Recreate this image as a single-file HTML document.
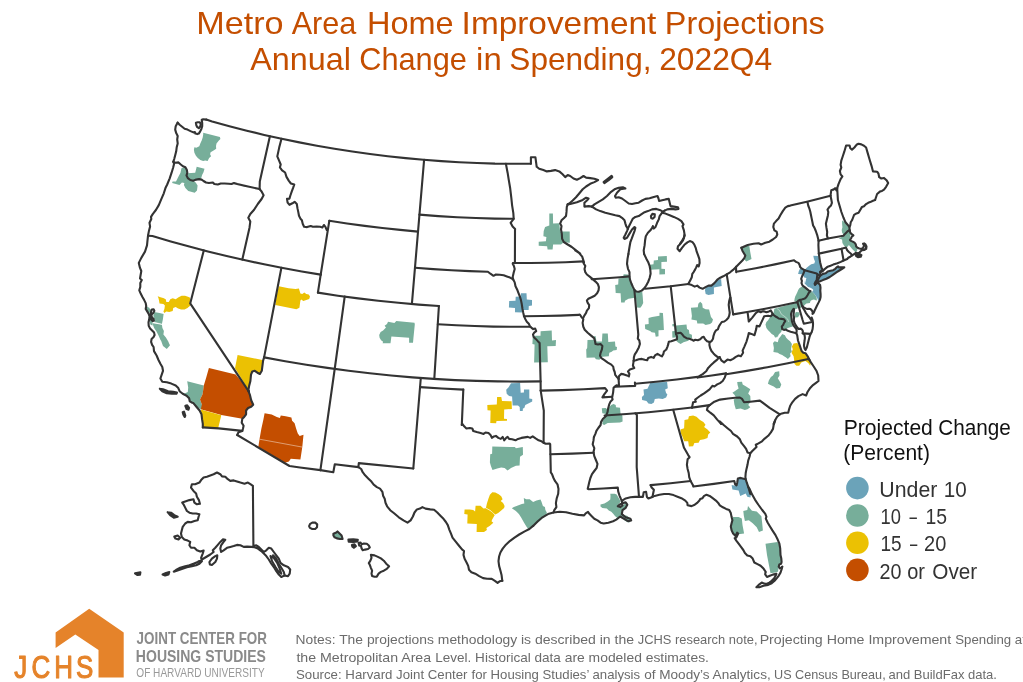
<!DOCTYPE html>
<html lang="en"><head><meta charset="utf-8"><title>Metro Area Home Improvement Projections</title>
<style>html,body{margin:0;padding:0;background:#fff}body{width:1023px;height:682px;overflow:hidden}svg{display:block}text{font-family:"Liberation Sans",sans-serif}</style></head>
<body>
<svg width="1023" height="682" viewBox="0 0 1023 682">
<rect width="1023" height="682" fill="#fff"/>
<g id="metros" stroke="none">
<path d="M203.2,132.8L219.9,137L220.4,139L218.9,140.5L216.5,143.4L216,145.9L216.2,148.8L214,150.3L210.6,152.2L210.1,154.2L211.1,156.2L209.1,158.1L207.6,161.1L205.2,160.6L203.2,161.1L200.3,160.1L197.8,158.1L195.9,155.7L194.4,152.7L193.9,149.8L194.4,147.3L196.3,147.8L199.3,146.3L200.3,143.4L201.7,140.5L202.7,137.5L203.2,134.6Z" fill="#77ae9a"/>
<path d="M181.4,168.3L184.9,167.3L186.8,169.7L187.3,173.2L195.2,172.7L196.7,166.8L204.5,168.8L203.5,172.2L202.1,175.1L201.1,178.6L196.2,179.6L193.2,180.7L195.7,182.5L197.6,185.5L197,190.4L194.7,192.8L188.3,190.9L185.4,187.9L183.9,185L184.4,183L181.9,182.5L179.5,185L172.1,183L172.6,181.5L176,181.5L178.5,176.6L180.5,172.7Z" fill="#77ae9a"/>
<path d="M157.7,296.2L160.5,297.2L163.9,298.2L165.9,299.6L166.3,302.1L168.8,302.1L170.3,299.2L172.7,298.2L175.7,299.2L178.6,297.2L181.6,295.7L185,295.7L188,296.7L190.1,297.7L189.9,303.1L190.4,305.5L187.5,308L184.5,309.5L181.1,309.5L178.1,308.5L175.7,307L173.2,308L172.7,310.9L169.3,311.9L166.3,311.4L164.4,312.9L163.4,311.4L164.4,309L164.9,305.5L163.4,304.1L159.5,303.6L159,300.6L158.5,298.2Z" fill="#ebc103"/>
<path d="M146.2,306L148.7,307.5L151.1,310L150.6,312.9L148.2,311.9L145.7,309Z" fill="#77ae9a"/>
<path d="M154.1,311.9L159.5,312.9L163.6,313.9L162.9,319.3L161.9,323.9L154.6,322.2L154.1,318.8L153.1,315.9L153.6,313.4Z" fill="#77ae9a"/>
<path d="M149.2,313.9L150.6,314.9L151.1,318.8L152.6,322.2L152.6,325.4L150.6,324.7L149.2,320.8L148.7,316.8Z" fill="#77ae9a"/>
<path d="M152.8,323.2L161.9,324.7L162.4,328.1L163.9,331.1L163.4,334.5L165.9,337.5L168.3,341.4L169.8,345.3L166.8,338.9L170,345.3L166.8,349.1L163,345.9L161.1,340.8L160.5,339.9L158.5,335.5L156.5,331.6L154.1,328.1L153.1,325.2Z" fill="#77ae9a"/>
<path d="M187.2,381.3L203.8,385.5L203.2,390L202.5,394.4L200,399.5L201.9,404.6L202.5,408.1L200.8,409.2L196.4,406.7L193.2,402.9L190,401.6L196.1,404.6L192.3,402.7L189.8,400.8L189.1,398.3L186.6,395.7L184,393.8L187.8,391.9L188.2,387.4Z" fill="#77ae9a"/>
<path d="M208.9,368L235.7,374.4L248.4,390L249.7,395.1L251.6,400.2L253.3,404L251,406.6L248.4,408.5L246.1,410.5L246.1,414.3L244.2,416.9L242.3,418.8L241,418.4L221.3,415L200.8,409.2L201.9,404.6L200,399.5L202.5,394.4L203.2,390L203.8,385.5L206.3,377.2Z" fill="#c44e00"/>
<path d="M237.6,355.1L262.5,360L261.8,370.8L259.9,374L257.4,372.7L254.8,370.8L252.3,371.5L251,374.7L250.4,381L249.1,386.1L248.4,389.7L235,368.3Z" fill="#ebc103"/>
<path d="M200.8,409.5L221.3,415.2L218.1,428.4L202.8,427.4L202.1,419.4L201.5,414.3Z" fill="#ebc103"/>
<path d="M264.6,413.3L271.7,414.6L276.8,416.9L279.9,417.9L280.8,415.6L285.7,416.3L291.4,417.5L292.1,420.7L294.6,423.3L296.1,428.4L297.8,433.5L299.7,436L303.5,434.8L302.3,446.9L300.4,459.6L290.8,458.7L288.9,461.6L285,462.8L258.3,446.9L259.5,439.2L261.4,428.4L263.4,419.4Z" fill="#c44e00"/>
<path d="M278.8,286.2L288.6,288.2L295.5,288.9L298.9,288.5L300.4,293.6L302.3,294.1L304.3,292.6L306.3,294.1L308.7,294.4L310,296.5L309.2,299L306.3,300L303.3,300.9L301.3,299.5L300.4,300.5L299.4,307.8L296.4,309.3L275.3,304.9L276.3,298.5L277.3,292.6Z" fill="#ebc103"/>
<path d="M388,321.8L394.4,323.1L396.3,321.1L414.5,322.8L414.8,324.6L413.5,337.3L413,342.7L409.1,342.7L409.1,337.8L391.4,336.5L390.5,343.2L382.6,343.2L383.1,341.7L381.1,340.3L379.6,337.8L379.2,334.9L380.6,331.9L383.1,330.5L386,327.5L384.6,325.7L387,324.1Z" fill="#77ae9a"/>
<path d="M549.3,213.6L552.9,213.6L553.1,223.6L559.3,223.3L560.1,231.6L569.7,231.6L569.8,242.8L563.8,242.3L561,244.5L553.1,244.5L552.6,249.5L547.6,249.5L547.1,246.2L538.7,245.7L538.7,241.7L545.9,241.2L546.4,237L543.4,236.2L543.7,231.1L545.1,227L549.3,225.6Z" fill="#77ae9a"/>
<path d="M520.9,293.3L526.5,293.3L526.8,299.6L532,300.1L532,305.5L528.8,306L528.6,310L522.4,310L522.2,312.4L515,312.2L515,308L508.9,307.5L509.2,301.1L515.5,300.8L515.7,296.7L520.9,296.5Z" fill="#6ba3b9"/>
<path d="M540.6,331.3L551.7,330.6L552,340.6L556,340.1L555.7,346L547.3,346.3L547.8,362.2L534.1,362.4L534.6,344.6L532.4,344.1L532.8,336.2L535.7,335.7L540.5,335.7Z" fill="#77ae9a"/>
<path d="M602.4,333.5L607.8,333.5L608.3,342L615,341.5L615.4,346.4L617,346.9L616.7,349.9L613.2,350.4L611.7,351.8L609.3,352.8L608.8,356.3L602.4,356.7L600.5,358.2L599.5,359.7L596,359.2L594.6,357.4L586.5,357.7L586.2,349.4L587.2,347.9L587.5,340L594.1,339.8L593.6,336.6L595.5,336.1L596.5,341.5L601.9,341.5Z" fill="#77ae9a"/>
<path d="M623.6,274.2L628,274.4L629.3,276.4L630,279.6L631.4,283.5L632.9,286.9L634.4,290.4L634.9,297.7L628.5,298.7L625,300.7L624.6,302.6L621.1,302.6L620.6,293.3L615.7,293.1L615.2,285L618.2,284.5L618.5,278.6L623.1,278.1Z" fill="#77ae9a"/>
<path d="M634.9,291.5L638.8,292.1L642.2,291.5L642.7,296.3L643.2,303.1L641.7,306.1L640.3,307.8L636.8,307.6L636.1,299.2Z" fill="#77ae9a"/>
<path d="M658,256.5L666.8,256L667,261.7L661.4,262.1L661.4,268.8L665,268.9L665,274.2L659.4,274.6L659.4,269.2L650.3,269.7L650.1,264.8L653.5,264.3L653.8,260.4L658,260.1Z" fill="#77ae9a"/>
<path d="M659.5,312.7L662.9,312.9L663.4,320L663.9,329.9L658.5,330.2L658.5,336.3L655.7,336.7L655,332.8L651.6,332.3L650.1,330.9L645.2,328.9L644.9,324.5L648.7,324L648.5,318.1L652.1,317.1L659.5,315.8Z" fill="#77ae9a"/>
<path d="M676.2,325.5L686.5,324.5L687,328.9L688.9,329.9L689.4,333.8L691.9,334.8L692.1,338.2L689.4,338.7L688.4,340.7L683.5,342.2L680.6,344.1L678.1,342.6L676.2,340.7L677,337.2L672.4,337.7L672.2,331.3L674.7,330.9L674.4,326.4L672.4,326.2L672.4,324L673.7,324Z" fill="#77ae9a"/>
<path d="M700.2,301.7L702.2,303.8L702.7,307.8L705.6,309.2L709.1,309.5L710.1,313.7L711,317.1L713,319.6L712,322.5L710.1,324L705.6,325L703.2,323.5L697.3,323.5L696.8,320.5L691.4,319.6L691.9,316.1L690.9,307.8L697.8,307.3L698.3,303.8Z" fill="#77ae9a"/>
<path d="M705.5,287.1L708.5,285.6L711.4,285.6L714.4,283.1L717.3,280L721.1,279L721.7,286.1L713.9,287.6L713.9,293.9L708.5,294.9L705.7,293.9L705,290.5Z" fill="#6ba3b9"/>
<path d="M741.4,247.8L744.8,246L749.3,246L750.2,251.7L751.5,259.1L746.3,261.5L744.3,259.6L744.8,257.6L745.6,255.6L743.9,253.2L742.4,250.7Z" fill="#77ae9a"/>
<path d="M650.4,382.8L658.8,382.3L667.1,382L667.8,388.2L665.1,389.6L666.1,393.1L667.4,394.6L666.1,397.5L662.7,399L658.8,398.5L654.8,399L653.9,402.4L651.4,403.9L648.4,403.4L646.5,400.9L642.1,400L641.9,397L644,395L643.5,389.6L647.5,388.7L648.9,385.7Z" fill="#6ba3b9"/>
<path d="M611.1,404.9L613.6,403.9L615.7,404.9L616,407.3L620,407.8L620.5,413.2L622.4,415.7L622.6,421.6L620,422.6L607.7,423L604.2,425L602.3,424L602.8,421.1L604.7,418.1L606.2,415.7L605.2,413.7L602.3,413.2L601.8,408.3L605.7,408.1L607.2,409.3L609.2,407.3Z" fill="#77ae9a"/>
<path d="M497.1,397.1L501.3,397.1L502,401L511.6,401.3L511.9,408.9L504.2,409.4L504,418.7L507,419L507,420.7L496.5,421L496.1,423.3L490.3,423.1L490.6,410.4L487.5,410.2L487.3,405L496.8,404.5Z" fill="#ebc103"/>
<path d="M511.1,383.3L520.1,383.1L520.7,392.7L523.9,392.5L524,389.5L529.3,389.5L529.3,398.6L532.2,399.1L532.2,401.5L529.3,403L525.3,405L524.3,407.9L522.9,408.4L522.7,410.9L519.9,410.9L519.7,406.9L518,405.5L512.6,405.6L512.1,396.6L509.1,396.1L506.7,393.7L506.2,389.7L508.6,387.3L510.1,384.8Z" fill="#6ba3b9"/>
<path d="M492.3,446.4L514.9,447.1L515.9,448.3L522.8,447.1L523,454.7L520,456.7L519.6,465.5L515.9,465.7L511,468L507.6,470.6L504.6,468L501.2,467.5L497.2,468.5L492.5,470L490.9,466L489.9,462.6L490.2,454.2L492.1,453.8Z" fill="#77ae9a"/>
<path d="M492.3,492.3L495.3,492.6L498.7,494.2L501.2,496.2L502.6,499.2L500.7,501.1L503.1,503.1L504.6,506L504.1,508L501.2,510.5L498.2,512.9L495.3,514.4L492.8,512.4L489.9,510L485.9,508L486.9,503.6L488.4,498.7L489.9,494.7Z" fill="#ebc103"/>
<path d="M475.6,505.7L480.5,505.7L483.5,508.5L485.9,508.3L489.9,510.5L492.8,512.6L494.8,514.9L492.3,519.3L491.5,521.3L493.3,522.7L489.9,525.7L486.4,528.1L486.9,530.1L484,532.1L476.6,531.9L476.8,524L467.3,523.4L467.6,514.4L464.3,513.9L464.6,509.5L469.7,509.5L473.2,510L475.1,511.4Z" fill="#ebc103"/>
<path d="M523.8,497.9L526.2,499.2L529.7,499.2L533.1,502.1L536.5,500.6L540.5,499.6L541.4,501.6L542.9,506L544.9,507L545.4,510L546.8,512.4L546.4,514.9L542.9,517.8L539.5,521.3L535.6,524.2L531.6,527.2L528.2,529.1L526.2,526.2L523.8,522.2L521.3,517.8L518.9,513.9L515.9,510.9L511.8,508.3L513.9,507L517.9,505.5L521.8,504.1L524.3,503.6Z" fill="#77ae9a"/>
<path d="M610.3,493.7L614.7,493.7L616.7,494.6L618.1,497.1L619.6,499.6L620.6,502L618.6,504L617.6,505.9L619.1,507.4L621.1,506.9L623,505.5L624.5,504L626.5,502.5L627.5,504L626.5,505.9L625,507.9L623,509.9L621.6,511.8L622.6,513.8L624.5,515.3L627,515.8L628.9,517.2L631.4,519.7L629.4,522.6L627,522L625,520.7L623,518.7L620.1,517.2L617.2,517.7L615.2,516.3L613.2,513.8L611.3,511.8L608.8,510.4L606.8,508.4L602.4,507.9L600.5,506.4L600.5,504.5L604.4,503.5L607.8,501.5L610.3,499.6L610.5,496.1Z" fill="#77ae9a"/>
<path d="M688.9,416.3L693.1,415.4L696.5,416.8L700,420L703.4,422L705.5,424.8L704.1,426.9L707.5,429.6L710.3,432.4L708.2,434.4L707.5,437.9L704.1,439.3L700,440L698.6,442.7L694.4,443L693.1,446.2L688.9,446.6L688.2,441.3L684.1,441.3L682.7,437.2L680.7,433.1L680.4,429.6L684.1,428.2L684.5,420L688.2,419.3Z" fill="#ebc103"/>
<path d="M737.2,382.1L742,381.7L742.7,384.4L746.1,386.5L750.3,389.3L748.2,393.4L750.3,396.1L750.6,401.7L748.2,405.1L750.3,407.2L747.5,409.2L744.8,409.9L740.6,408.5L735.8,409.2L734.4,404.4L733.7,399.6L736.5,398.2L734.4,394.8L732.4,392.7L735.8,390.6L738.6,388.6L737.6,385.1Z" fill="#77ae9a"/>
<path d="M775.1,372L779.2,371.3L779.5,375.5L777.8,378.2L779.9,381.7L781.3,384.4L779.9,387.9L776.5,388.6L773.7,386.5L770.3,385.1L767.9,383.7L768.9,380.3L770.9,376.9L773,375.5Z" fill="#77ae9a"/>
<path d="M782.2,333.9L784.9,335.2L786.2,337.8L787.9,339.6L790.1,341.3L791.9,344L791.5,346.6L791,349.3L791.9,351.5L790.1,353.6L790.6,356.3L787.9,358.9L785.7,357.2L784,356.3L782.2,355L779.6,354.1L777.8,352.8L773.4,351.9L773.9,347.9L773,343.1L774.7,341.3L777.8,342.2L778.7,338.7L780.9,336.1Z" fill="#77ae9a"/>
<path d="M793.6,343.5L797.2,343.1L798.9,344.9L799.8,347.5L801.6,351L803.3,352.8L805.5,353.2L807.7,356.3L809.5,360L810.9,362.4L810.2,365.8L808.2,363.1L805.4,361L801.3,362.4L799.2,365.8L796.4,365.8L794.4,363.8L794.1,359.6L793.6,356.3L791.5,352.8L792.8,349.3L791.9,346.6Z" fill="#ebc103"/>
<path d="M772.7,314.2L775.2,316.3L776.9,317.2L778.7,318.5L781.3,318.9L784,319.3L785.3,321.1L784,322.9L783.1,325.1L781.8,326.4L782.2,329L781.3,331.7L779.1,334.3L777.8,336.9L775.2,337.8L773.9,335.2L771.7,333.9L769.9,332.1L768.1,330.3L766.4,328.1L765.5,324.6L766.4,322L768.1,320.2L769.9,317.2L771.2,316.3Z" fill="#77ae9a"/>
<path d="M774.3,308.8L798,302.2L798.9,305.3L797.2,308.8L794.1,309.2L791.9,311.4L791,314.1L791.5,317.6L791.9,321.1L792.8,323.7L792.8,326.4L790.1,327.3L787.9,328.1L785.7,329.5L784,329.9L782.2,329L781.8,326.4L783.1,325.1L784,322.9L785.3,321.1L784,319.3L781.3,318.9L778.7,318.5L776.9,317.2L775.2,316.3L772.7,314.2L773.9,311.4Z" fill="#77ae9a"/>
<path d="M795.8,311.9L798.9,312.3L799.8,314.5L798,317.2L795.4,317.6L794.5,315Z" fill="#77ae9a"/>
<path d="M801.7,286.7L803.7,286.5L805.8,287.9L808.1,289.7L810.5,291.1L808.7,292.9L807.5,295.2L806.4,297L805.2,298.2L803.4,299.1L801.7,299.6L799.9,299.9L798.2,300.8L797.3,302.2L795.8,301.7L794.3,301.1L794.6,298.8L795.2,296.4L796.1,294.7L797.3,292.3L798.2,290L799.3,288.2Z" fill="#77ae9a"/>
<path d="M810.5,291.1L812.2,291.7L814,293.5L815.5,295.5L816.6,297.6L816.9,300.5L815.7,300.2L814,299.6L811.9,299.9L810.5,301.1L809.9,302.9L808.1,303.2L806.4,303.5L805.2,304.6L804,305.8L802.6,306.4L801.7,304.6L801.1,302.3L799.9,300.2L801.7,299.6L803.4,299.1L805.2,298.2L806.4,297L807.5,295.2L808.7,292.9Z" fill="#77ae9a"/>
<path d="M797.3,302.2L798.7,306.4L799.9,308.2L801.1,307.6L802,305.8L801.7,304.6L801.1,302.3L799.9,300.2L798.2,300.8Z" fill="#77ae9a"/>
<path d="M813.3,255.7L818.4,255.9L820.1,262.2L821.5,267.7L822.6,269.5L820.8,271.2L820.1,272.2L820.5,274.6L817.4,274.3L817,277.4L816.7,280.1L815.3,282.2L815,285L817.4,282.6L818.8,283.6L820.1,285L820.5,287.7L820.7,292L818.7,284.7L819.6,285.6L820.1,287.6L820.3,290.6L820.6,294.1L820.6,297L819.9,299.9L818.4,300.8L816.9,297.6L815.5,295.5L814,293.5L812.2,291.7L813.4,290L812.2,288.8L809.9,287.6L808.1,287L806.4,285.3L804.6,283.5L804,280L805,283.6L805.7,280.8L806.4,278.1L804.3,277.4L802.9,275.3L801.5,274.3L798.1,273.9L798.8,271.2L799.8,269.1L801.5,268.4L804.6,270.2L806.4,268.1L809.1,265.7L811.2,264.3L814.3,263.6L815,261.5L813.9,258.8Z" fill="#6ba3b9"/>
<path d="M820.8,275.3L822.9,273.9L825.7,273.3L827.7,271.5L830.5,270.8L833.2,270.2L835.3,268.8L837,267.1L838.1,266.4L838.8,267.4L841.5,267.4L844.3,267.4L842.2,268.8L839.4,270.5L836.7,272.2L833.2,274.6L829.8,277L826.4,278.8L822.9,280.1L819.5,281.5L817.4,282.2L818.1,279.5L819.5,276.7Z" fill="#6ba3b9"/>
<path d="M842.1,220.6L843.8,221.6L845.5,223L847.6,224.7L849.3,226.8L849.6,229.2L849.6,230.3L847.6,231.3L845.5,233.4L843.8,235.1L842.1,232.7L841.7,229.9L842.4,227.2L842.1,223.7Z" fill="#77ae9a"/>
<path d="M849.6,230.3L850.3,232.7L851,234.7L850,235.8L850.3,238.2L849.6,239.9L851,240.9L852.7,241.6L854.5,242.7L855.8,244.4L856.2,246.5L857.6,247.8L857.2,250.6L855.8,252.7L854.5,251.3L852.4,249.2L850.3,246.8L848.9,245.1L847.6,246.8L845.8,247.1L844.1,245.8L842.4,243L842.1,239.6L838.6,238.5L840.7,237.8L843.4,235.8L845.5,233.4L847.6,231.3Z" fill="#77ae9a"/>
<path d="M737.1,478.6L744.1,478.6L746,477.5L747.3,482.5L749.6,488.8L751.2,493.5L750.4,497.5L747.3,496.7L745.7,493.5L740.2,495.9L738.6,490.4L735.5,490.1L732.4,489.6L731.6,484.9L735.5,485.7L737.1,484.9Z" fill="#6ba3b9"/>
<path d="M748,506.1L752,510.8L756.7,511.6L761.4,516.3L762.2,523.3L762.9,530.4L759,532L756.7,527.3L752.7,523.3L748.8,520.2L744.9,521L743.8,515.5L743.3,511.1L747.3,510Z" fill="#77ae9a"/>
<path d="M733.1,517.1L738.6,517.1L741.8,518.6L742.5,524.9L744.1,533.5L738.6,534.3L736.3,532.7L735.5,535.9L733.1,533.5L731.6,530.4L730.8,526.5L731.6,523.3L732.4,520.2Z" fill="#77ae9a"/>
<path d="M765.5,543.8L777.5,542.1L778.7,543.5L779.9,547.6L780.5,551.7L780.8,555L781.3,558.5L781.6,562L781.1,563.8L779.3,564.4L778.7,566.7L778.1,571.4L776.7,572.3L770.5,573.2L767,555Z" fill="#77ae9a"/>
<path d="M333.4,533.7L336.3,532.6L337.5,531.4L339.3,533.2L341.6,535.5L342.6,539L339.9,539L336.9,538.4L334.6,537.3L333.4,535.5Z" fill="#77ae9a"/>
</g>
<g id="inner" fill="none" stroke="#fff" stroke-opacity="0.75" stroke-width="0.6">
<path d="M259.5,439.2L302.3,447.1"/>
<path d="M154.1,322.2L161.9,324.2"/>
<path d="M154.1,311.9L153.1,315.9L154.1,318.8L154.6,322.2"/>
<path d="M485.9,508L489.9,510.3L492.8,512.6L494.8,514.9"/>
<path d="M776.9,308.4L779.6,310.6L781.3,314.1L784.9,316.7L787.5,318.9L788.8,322"/>
<path d="M782.2,333.9L779.1,334.3L777.8,336.9L775.2,337.8"/>
</g>
<g id="isl" fill="#333" stroke="none">
<path d="M159.8,388.7L163,389.3L168.1,391.2L173.2,391.9L177,392.5L176.4,393.8L171.9,393.8L166.8,393.2L162.3,391.2Z"/>
<path d="M185.3,405.9L187.2,405.3L189.1,407.8L188.5,409.7L186.6,409.1Z"/>
<path d="M182.7,412.3L184,411.7L185.3,415.5L184.7,417L183.4,414.8Z"/>
<path d="M348.4,539.6L353.3,539.3L357.8,539.7L357.4,541.4L353.3,542L348.7,541.6Z"/>
<path d="M351.9,544.9L354.5,544.3L355.9,546.1L353.9,547.8L352.4,546.6Z"/>
<path d="M135,573.4L140.4,572.4L140,574.7L137.5,575Z"/>
<path d="M162.6,574.5L166,572.9L169.3,572L168.5,574.5L165.1,575.4Z"/>
<path d="M167.6,512.2L171,512.7L174.3,515.2L177.7,516.8L173.8,517.7L170.1,515.2Z"/>
<path d="M603.6,182.1L607.8,178.8L611.6,175.8L612.3,177.1L608.3,180.5L604.4,183.1Z"/>
<path d="M855.8,253.7L858.6,253.4L861.4,255.1L860.7,256.8L857.9,257.1L856.2,256.1Z"/>
<path d="M863.1,243.7L864.1,243.4L865.5,244.4L866.5,246.5L866.2,248.9L864.5,249.9L862,250.2L863.1,249.2L864.8,248.2L865.1,246.5L864.5,245.1Z"/>
</g>
<g id="borders" fill="none" stroke="#333" stroke-width="2.1" stroke-linejoin="round" stroke-linecap="round">
<path d="M206.2,119.6L212.1,121.6L229.4,126.3L246.8,130.7L264.2,134.9L281.7,138.8L299.3,142.4L316.9,145.7L334.5,148.7L352.3,151.5L370,154L387.8,156.2L405.6,158.1L423.5,159.8L441.3,161.1L459.2,162.2L477.1,163L495,163.6L513,163.8L530.9,163.8"/>
<path d="M177.7,122.6L179.6,124.7L182.1,126.7L184.6,128.7L187.5,129.6L190.5,131.1L193.4,132.4L194.9,132.1L195.4,133.6L197.3,134.1L198.8,133.6L200.3,131.1L201.3,129.2L202.2,126.2L202.2,122.8L201.7,119.8L203.2,119.3L206.2,119.6"/>
<path d="M195.9,122.8L197.8,122.3L199.8,122.3L200.8,124.2L200.1,126.7L198.8,128.2L197.3,127.2L196.3,125.2L195.9,122.8"/>
<path d="M177.7,122.6L175.7,126.2L175.2,129.6L176.2,133.1L177.7,136L177.2,139.5L177.7,143.4L176.7,147.3L176.2,151.3L175.2,155.2L174.2,159.1L173.3,161.6"/>
<path d="M173.4,161.9L175.5,162.7L178.5,162.4L180.5,164.3L182.9,166.3L185.4,167.3L186.8,169.7L187.3,172.7L186.5,175.6L187.8,178.1L190.3,180L193.2,180.7L196.2,179.6L199.1,179.1L201.6,179.6L203.5,181L206,182.5L208.9,183L212.9,182.5L214.3,184L217.8,184.5L220.7,183.5L224.7,183.5L228.6,183.7L231.5,184L234,183L237.4,184L241.4,185L245.3,185.9L234.2,183.2L246.9,186.2L259.6,189.1"/>
<path d="M269.9,136.2L259.8,181.4L259.6,189.1"/>
<path d="M259.6,189.1L261.6,191.5L263.6,195.2L261.6,199L257.8,204L254.1,209.8L250.3,214L248.3,217.8L250.3,221.6L249.5,227.7L242.3,259.6"/>
<path d="M173.4,161.9L174.1,163.8L173.1,167.8L171.6,172.7L169.6,178.6L167.2,184.5L165.7,187.4L163.8,193.3L161.3,199.2L158.8,205.1L155.9,210L152.9,213.9L151,216.9L151.3,219L149.5,222.8L150.1,226.6L148.8,231.6L148,235.8"/>
<path d="M148,235.8L152.4,236L170.8,241.4L189.3,246.6L207.9,251.4L226.6,256L245.3,260.3L264.1,264.3L282.9,268L301.8,271.5L320.7,274.6"/>
<path d="M148,235.8L147.5,240.4L147,245.4L145,251.6L141.3,257.9L138.8,262.9L140,267.9L141.3,271L140,278.5L141.8,280L140.3,282.9L140.3,286.9L139.3,290.3L140.8,293.8L142.3,296.7L144.2,300.1L145.7,303.1L146.2,306L145.7,309L147.2,311.4L148.7,313.9L149.6,316.3L149.2,319.3L148.5,322.2L148.7,325.7L150.1,328.6L152.1,330.6L154.1,332.6L154.6,335L153.6,337L151.6,338.9L151.1,341.9L152.1,344.8L153.6,347L154,351.1L156.6,355.5L158.5,360L160.4,363.8L162.3,367L163,370.8L161.7,374.7L160.4,378.5L162.3,381.7L166.8,382.3L171.3,383.6L175.7,385.5L178.3,388.1L179.6,391.2L182.7,393.8L186.6,395.7L189.1,398.3L189.8,401.4L192.3,402.7L193.2,402.9L196.4,406.7L199.6,410.5L201.5,414.3L202.1,419.4L202.8,423.9L202.8,427.4"/>
<path d="M151.8,309.5L153.6,309.2L154.4,310.9L153.4,312.9L152.1,313.9L151.3,315.9L152.3,317.8L153.6,318.8L153.9,320.8L152.6,321.1L151.3,319.8L150.4,317.8L150.3,315.4L150.8,312.9L151.3,310.9L151.8,309.5"/>
<path d="M159.8,388.7L163,389.3L168.1,391.2L173.2,391.9L177,392.5L176.4,393.8L171.9,393.8L166.8,393.2L162.3,391.2L159.8,388.7"/>
<path d="M185.3,405.9L187.2,405.3L189.1,407.8L188.5,409.7L186.6,409.1L185.3,405.9"/>
<path d="M182.7,412.3L184,411.7L185.3,415.5L184.7,417L183.4,414.8L182.7,412.3"/>
<path d="M202.8,427.4L218.7,428.4L242.3,430.9"/>
<path d="M203.8,250.4L190.2,303.4L248.9,391.6"/>
<path d="M248.9,391.6L248.1,390.1L250,395.2L251.2,400.3L253.2,404.8L251.2,406.7L248.1,408L246.1,410.5L246.1,414.3L244.2,416.9L242.3,418.8L241.7,422.6L243.6,425.8L242.9,429L242.3,430.9L238.5,432.2L237.2,435"/>
<path d="M264.1,357.4L263.1,360.6L261.8,370.8L259.9,374L257.4,372.7L254.8,370.8L252.3,371.5L251,374.7L250.4,381L249.1,386.1L248.4,390L248.9,391.6"/>
<path d="M281.4,267.8L264.1,357.4"/>
<path d="M264.1,357.4L285.2,361.2L306.3,364.7L327.4,367.9L348.6,370.8L369.8,373.3L391.1,375.5L412.4,377.4L433.7,378.9L455.1,380.1L476.4,380.9L497.8,381.4L519.2,381.6L540.6,381.4"/>
<path d="M344.7,296.6L334.7,369L320.4,470.1"/>
<path d="M317.9,292.6L337.9,295.7L358.1,298.4L378.2,300.8L398.4,302.8L418.7,304.6L438.9,306"/>
<path d="M320.7,274.6L317.9,292.6"/>
<path d="M329.3,220.8L320.7,274.6"/>
<path d="M329.3,220.8L347,223.5L364.7,225.9L382.4,228L400.2,229.9L418,231.6"/>
<path d="M281.5,138.7L279.2,147.6L277.3,156.4L279.2,160.8L280.7,164.5L279.9,167.4L282.1,170.3L285.1,172.5L286.5,176.9L288.7,180.6L290.9,183.5L294.3,184.5L293.1,187.9L291.7,191.6L290.2,196L289.5,198.6L287,198.9L287.6,202.6L289.5,204.8L292.4,203.3L294.6,201.8L296.8,204L297.5,208.4L298.3,212.1L299,215.8L300.5,218.7L301.9,220.2L302.7,223.8L304.1,226.8L307.1,227.1L310.7,226L312.9,226.8L316.6,226.5L320.2,226.8L322.4,227.5L323.9,225L325.4,226.8L326.8,230"/>
<path d="M424.1,159.8L411.9,304"/>
<path d="M438.9,306L434.3,378.9"/>
<path d="M437.8,324.2L456.3,325.3L474.8,326L493.3,326.6L511.8,326.8L530.3,326.8"/>
<path d="M419.4,214.6L438.3,216.1L457.1,217.2L475.9,218L494.8,218.6L513.7,218.8"/>
<path d="M420.8,378L413.3,468.5"/>
<path d="M420.1,387.1L441.7,388.5L463.3,389.6"/>
<path d="M463.3,389.6L461.8,424.9"/>
<path d="M413.3,468.5L358.8,463.1L358.4,467.1L334.8,464.3L333.3,472.2L320.4,470.1"/>
<path d="M320.4,470.1L300,467.5L289.5,466L237.2,435"/>
<path d="M530.9,163.8L530.9,157.2L535.4,157.2L536.7,166.8L539.2,168.8L543.4,170.1L546.8,171.4L550.9,170.9L555.1,170.1L559.3,171.4L562.6,174.3L565.2,177.1L567.7,175.1L570.2,176L573.5,178.5L576.9,179.8L580.2,178.1L583.5,176L586.1,177.6L590.2,178.1L594.4,178.8L598.1,180.1L594.4,182.1L590.2,183.8L586.1,186.5L582.7,189.3L579.4,193.2L576,197.2L572.7,200.5L569.3,203.5L567.7,204.4"/>
<path d="M603.6,182.1L607.8,178.8L611.6,175.8L612.3,177.1L608.3,180.5L604.4,183.1L603.6,182.1"/>
<path d="M567.7,204.4L570.2,204L576.9,202.2L582.7,199.9L586.1,197.7L588.6,198.5L586.9,200.5L584.4,202.7L584.4,206.6L588.6,206.1L591.9,206.6"/>
<path d="M591.9,206.6L594.4,204.4L598.6,201.9L602.8,199.4L607,196L611.1,191.8L614.5,189.3L618.7,187.7L622.8,187.2L625.4,188.5L620.3,189.3L617,192.7L615,196L615.7,197.7L618.7,197.2L622,198.5L625.4,201L628.7,203.5L632,204L635.4,203.2L638.7,202.7L642.1,200.5L645.4,198.9L649.6,198.2L653.8,196.9L657.5,196L658.5,198.5L659.1,201L662.1,200.2L665.5,199.4L668.8,198.9L669.7,202.7L670.5,206.1L673.8,206.6L678,207.2L678.5,208.9L675.5,209.4L671.3,208.9L667.2,209.4L664.6,210.6"/>
<path d="M591.9,206.6L596.1,209.4L600.3,211.1L605.3,212.7L610.3,213.9L615.3,215.3L619.5,216.1L622,217.8L624.5,220.3L625.4,223.6L626.2,226.1L627.9,228.6"/>
<path d="M627.9,228.6L629.5,225.3L631.2,221.9L632.9,218.6L635.4,216.9L638.7,216.1L641.2,214.4L644.6,212.2L647.9,211.1L652.1,209.4L656.3,208.9L659.6,209.9L663,211.6L664.6,210.6"/>
<path d="M627.9,228.6L627,231.1L625.4,234.5L623.7,237.8L624.5,239L627,237.8L629.5,233.6L632,229.5L634.5,227L635.4,227.8L634.5,231.1L632.9,235.3L631.7,238.7L630.4,242L629.5,247L628.7,252L628.4,254"/>
<path d="M662.1,212.7L665.5,213.6L669.7,215.3L673.8,216.9L678,218.9L681.4,221.1L683.5,224.4L682.5,226.1L683.9,230.3L684.7,235.3L683,240.3L680.5,243.7L678,246.2L677.5,248.7L679.7,251.2L680,250.7L682,247.8L684.4,244.8L687.4,242.4L689.8,241.1L692.3,241.9L694.2,244.3L695.7,247.8L696.7,251.7L698.2,255.6L699.4,259.1L699.6,263L698.7,266.4L697.2,265L696.2,267.4L695.2,269.4L693.8,271.8L692.3,273.8L691.8,277.2L690.3,280.2L688.8,283.1L688.3,284.1"/>
<path d="M662.1,212.7L659.6,216.1L658.8,219.4L657.1,222.8L655.5,227L653.8,228.6L652.9,226.1L652.1,227.8L650.4,230.3L647.9,232.8L645.8,236.2L645.1,240.3L644.6,245.4L643.7,250.4L644.1,254"/>
<path d="M650.9,216.1L652.4,213.9L654.8,214.4L654.6,216.9L652.9,218.6L651.3,218.3L650.9,216.1"/>
<path d="M567.7,204.4L566.8,206.9L566.5,211.9L566,216.1L563.8,218.3L561.5,220.3L560.1,223.6L561.5,226.1L561,229.5L561.8,233.6L562.1,238.7L563.8,242L567.7,244.5L571.8,247L576,250.4L580.2,253.7L575.2,250.4L579,252.9L582.2,256.6L584,262.4"/>
<path d="M505.9,163.8L507.6,172.7L508.8,180.2L510.1,187.7L511.3,197.7L512.1,205.3L513.3,212.8L513.7,218.8L510.6,222.8L512.6,226.6L515.1,229.1L515,230.4L514.9,263"/>
<path d="M512.9,263L530.5,263L548,262.7L565.6,262.2L583.1,261.4"/>
<path d="M618.6,378.9L619,385.7L616.5,385.2L614.1,387.2L613.6,387.7L613.1,392.6L612.1,397.5L612.6,399.5L610.6,401.4L609.2,404.4L608.2,408.3L607.5,412.2L606.2,415.7L604.7,417.2L602.8,419.1L601,422.1L600.6,425L598.3,428L596.4,430.9L595.4,433.9L593.9,437"/>
<path d="M540.7,390.6L562.2,390.1L583.6,389.2L605.1,388.1L607.1,390.6L604.4,394.1L602.4,397.4L612.1,396.8"/>
<path d="M618.6,378.9L619.1,375.9L621.1,373.9L624,374.4L627,375.4L628.9,376.4L629.4,373.9L628,371.5L629.9,369.5L632.9,368.5L634.3,368L632.9,365.6L633.4,362.6L633.7,360.7"/>
<path d="M633.7,360.7L635.9,360.3L638.8,359.3L641.8,358.9L644.7,359.8L647.2,360.3L648.2,357.9L651.1,356.9L653.6,357.9L655,355.4L657.5,353.9L660,355.4L661.9,356.4L663.4,353.9L663.9,351.5L666.3,349.5L667.3,347.1L668.3,344.1L668.8,341.7L671.3,341.2L674.2,340.2L677,339.2L677,336.3L676,333.8"/>
<path d="M614.8,386.8L635.2,385.9L634.9,382.6L635,383.7L655.9,381.8L676.7,379.5L697.5,376.9"/>
<path d="M604.8,415.7L604.6,415.5L626.5,414L648.4,412.2L670.2,410L692,407.5"/>
<path d="M540.7,390.6L543.8,410.6L543.6,442.7"/>
<path d="M543.6,442.7L545.7,443.8L549.6,443.5L550.2,444.2L550.4,453.9L550.8,472.4L552,474.1L553.5,478L555.1,481.2L557.5,484.3L558.5,489L558.2,493.7L556.7,498.4L555.9,503.1L556.4,507.1L554.3,510.2L553.5,512.5"/>
<path d="M550.4,454.2L572.1,453.6L593.7,452.7"/>
<path d="M593.9,437L593.5,440.4L592.7,444.3L594.3,448.2L593.5,452.2L594.3,456.1L595.9,460L597.5,463.9L596.7,467.8L594.3,471L592,474.1L590.4,478L589.3,482L588.4,485.9L587.7,488.7L588.9,489.3L603.3,488.5L617.8,487.6L618.2,491.4L619.4,495.3L620.7,498.4L621.8,500.8"/>
<path d="M635.3,413.3L636.9,415L636.7,467.1L639,496.9"/>
<path d="M650.6,485.1L651.6,487.5L653.9,489.8L653.1,493.7L652.4,496.9"/>
<path d="M533.1,525.9L537.8,521.2L542.5,517.3L548,514.1L553.5,512.5L559.8,511.8L566.1,512.2L572.4,513.8L578.6,514.9L584.1,515.4L585.7,513.3L588,511.8L589.6,514.1L592,516.5L594.3,518.8L597.5,520.4L600.6,522.7L603.7,523.5L608.4,522.7L613.1,521.2L616.3,519.6L620.2,516.5L624.1,518.8L628,521.2L631.2,520.4L630.4,518.8L625.7,517.3L621.8,514.1L622.5,510.2L625.7,507.8L627.3,504.7L625.7,502.4L622.5,503.1L619.4,504.7L617.8,506.3L620.2,507.1L622.5,505.5L621.8,500.8L625.7,498.4L630.4,497.2L635.1,496.9L639,496.9L642.9,496.9L643.7,492.2L646.1,491.8L646.9,496.9L648.4,498.4L652.4,496.9"/>
<path d="M461.8,424.9L462.5,424.1L464.4,426.6L466.4,428.5L469.8,428L472.3,428.5L473.3,431L476.7,432L480.6,433L483.6,433.9L485.5,432.5L488.5,433L490.5,434.9L491.9,437.9L493.9,436.4L495.9,435.9L498.3,437.9L500.8,438.9L502.7,436.9L504.2,440.3L506.2,437.9L507.6,436.9L509.1,438.9L512.1,439.3L515.5,440.3L518,438.9L521.4,437.9L524.8,437.4L527.8,436.9L530.2,437.9L532.7,436.4L535.6,438.4L538.6,440.3L541.5,441.3L543.6,442.7"/>
<path d="M358.4,467.1L361.2,469L362.7,472.2L365.1,475.3L368.2,478.4L371.4,481.6L373.7,484.7L376.9,487.1L380,488.6L382.4,491.8L383.1,495.7L384.7,498.8L385.5,502.7L387.1,506.3L390.2,510.2L394.1,513.3L398.8,517.3L403.5,520.4L407.5,522.7L410.6,520.4L412.9,516.5L414.5,512.5L416.9,509.4L420,508.6L422.4,507.1L425.5,508.6L430.2,509.4L434.1,509.7L437.3,512.5L440.4,515.7L443.5,518.8L445.9,522L447.8,525.1L449.4,529.8L451,533.7L452.5,537.6L455.7,541.6L458.8,545.5L462,549.4L464,551L463.5,554.9L464.6,558.8L466.7,562.7L468.2,565.9L469,569.8L471.4,572.2L475.3,573.7L479.2,576.1L483.1,578.1L487.1,578.7L491.8,578.9L494.9,580.8L497.6,582.8L499.6,581.3L502.3,580.8"/>
<path d="M502.3,580.8L501.6,575.3L500.4,570.6L499.1,565.9L498.5,561.2L499.1,556.5L500.4,552.5L502.7,548.6L505.9,544.7L509.8,541.1L514.5,537.6L519.2,534.5L524.7,531.4L529.4,529L533.1,525.9"/>
<path d="M514.9,263L512.7,263.8L513.9,265.9L514.7,269L513.6,272.9L512.7,276.9L513.1,279.2"/>
<path d="M415,267.7L433.2,269.1L451.4,270.3L469.6,271.1L487.9,271.7L490.4,273.7L493.5,275.8L495.9,274.5L499.8,274.8L503.7,275.3L506.9,276.4L510,277.6L513.1,279.2"/>
<path d="M513.1,279.2L514.7,282.4L515.5,286.3L517.1,289.4L518.6,293.3L519.9,296.5L521,300.4L521.8,304.3L522.5,309L523.3,312.9L524.1,316.4L525.4,319.3L526.8,321.7L528.8,323.7L529.8,326.2L531.3,327.6L533.2,329.1L535.2,328.6L536.2,331.1L534.2,332.6L533,334.5L533.7,337L535.7,338.9L537.6,340.9L539.6,342.9L540.6,381.4L540.7,390.6"/>
<path d="M523.9,316.2L542.3,316L560.6,315.6L578.9,314.9L579.8,314.5L581.4,316.9L582.9,318.4"/>
<path d="M583.1,261.4L583.7,263.5L585.3,265.9L584.5,269L585.3,272.2L586.9,274.5L590,276.9L592.4,278.9L595.5,281.6L597.8,283.9L598.9,287.1L598.6,290.2L597.1,293.3L594.7,295.7L591.6,297.3L588.4,298.8L586.9,300.4L587.6,302.7L589.2,305.1L588.9,308.2L586.9,310.6L586.1,312.9L584.5,315.3L582.9,318.4L583.3,319.4L582.6,322.9L583.3,326.8L584.7,329.7L587.7,332.7L591.1,335.6L594.1,338.1L595,341L595.5,344L598,344.5L600.5,344L602.4,345.9L601.9,349.4L600.6,352.8L600,355.8L601.4,358.2L604.4,360.2L607.8,362.6L611.3,364.6L613.2,366.6L613.7,369.5L614.7,372L615.2,374.9L617.2,377.4L618.6,378.9"/>
<path d="M741.4,247.8L747.7,245L753.5,243.7L758.6,243.3L761.1,244.5L765.3,242.8L769.4,241.7L772.8,239.5L776.1,237L777.3,234.5L776.6,231.6L774.4,230.3L773.3,227L773.9,223.6L776.1,221.1L778.6,218.6L780.3,215.3L782.8,211.1L785.3,207.7L787.8,206.1L790.3,205.6L807.9,201.4L830.5,195.7"/>
<path d="M830.5,195.7L831.3,190.2L833.8,189.3L833.7,189.6L835.1,188.2L836.5,190.3L837.2,188.2L838.5,184.1L840.6,179.2L842.4,176.5L840.6,174.4L839.9,171L841.3,167.5L840.6,164.8L841.3,160.6L842.7,156.5L844.3,151.7L846.1,145.5L849.6,145.5L850.3,148.2L852,149.6L854.4,147.5L856.5,144.8L858.5,143.8L861.3,144.4L864,145.7L866.1,147.5L867.5,152.4L869.5,159.3L871.6,166.1L873,171.4L877.1,171.7L878.5,173.7L879.2,177.2L881.3,178.5L884,177.9L886.8,180.6L888.2,183L886.1,186.8L884,189.6L882,190.9L879.9,191.6L877.1,194L875.1,200"/>
<path d="M837.2,188.2L837.9,200L841.4,212L843.4,217.5L845.5,222.3L847.6,224.7L849.3,226.8L849.6,229.2L849.6,230.3"/>
<path d="M807.5,202.1L808.2,205.5L809.3,208.3L810.3,211.7L811,215.2L811.7,218.6L812.4,222L813.1,225.5L814.4,227.6L815.8,231L817.2,235.1L818.6,240.7"/>
<path d="M830.5,195.7L831.4,200L831.9,202.8L831,205.5L828.9,207.6L827.5,209.6L828.3,212L827.9,215.4L826.9,219.6L825.9,223.7L826.5,227.9L827.2,232L826.9,235.4L827.9,238.5"/>
<path d="M818.6,240.7L827.9,238.5L843.4,235.8L845.5,233.4L847.6,231.3L849.6,230.3"/>
<path d="M849.6,230.3L850.3,232.7L851.7,234.1L853.4,235.4L851.7,236.8L851,238.5L850,239.9L851,240.9L852.7,241.6L854.5,242.7L855.8,244.4L856.2,246.5L857.6,247.8L859.3,248.5L861.4,248.9L863.1,247.8L864.1,245.8L863.1,243.7L864.1,243.4L865.5,244.4L866.5,246.5L866.2,248.9L864.5,249.9L862,250.2L860.7,251.3L859.3,252.7L857.6,253.4L855.8,252.7L854.5,254L852,255.4L850.3,256.8L848.3,257.8L847.2,259L843.6,260.5L840.8,261.9L837.4,263.3L833.2,264.6L830.5,265.7L827.7,266.7L825,268.8L822.6,271.2L820.1,272.2"/>
<path d="M855.8,253.7L858.6,253.4L861.4,255.1L860.7,256.8L857.9,257.1L856.2,256.1L855.8,253.7"/>
<path d="M818.6,240.7L818.4,245L818.8,253.6L820.1,262.2L821.5,267.7L822.6,269.5L820.8,271.2L820.1,272.2"/>
<path d="M818.8,253.6L841.5,248.8L846,247.6L847.2,250.2L848.9,252L851,253.7L852,255.4"/>
<path d="M841.5,248.8L843.6,260.5"/>
<path d="M875.1,200L873,200.7L870.2,202.1L868.2,202.8L866.1,204.1L864,206.2L862,206.9L858.6,212.7L856.5,213.4L854.1,214.8L853.1,217.5L852,220.3L850.7,222.3L850.3,225.1L849.6,226.8"/>
<path d="M820.8,275.3L822.9,273.9L825.7,273.3L827.7,271.5L830.5,270.8L833.2,270.2L835.3,268.8L837,267.1L838.1,266.4L838.8,267.4L841.5,267.4L844.3,267.4L842.2,268.8L839.4,270.5L836.7,272.2L833.2,274.6L829.8,277L826.4,278.8L822.9,280.1L819.5,281.5L817.4,282.2L818.1,279.5L819.5,276.7L820.8,275.3"/>
<path d="M736,266.9L736.2,272.3L736.4,271.7L755.7,268.2L774.9,264.4L794.1,260.3L794.3,260.5L796,261.9L798.4,262.9L799.5,264.6L800.2,267.1L801.5,268.4L804.6,270.2"/>
<path d="M804.6,270.2L816.7,273.6L817.4,274.3"/>
<path d="M820.1,272.2L820.5,274.6L819.5,276L818.1,274.6L817.4,274.3L817,277.4L816.7,280.1L815.3,282.2L814.6,283.6L815,285L817.4,282.6L818.8,283.6L820.1,285L820.5,287.7L820.3,290.6L820.6,294.1L820.6,297L819.9,299.9L818.4,302.9L816.9,305.8L815.5,308.7L814.6,310.5L813.7,312.8L812.5,313.9L812.8,312.3L811.9,310.5L810.5,309L809,308.7L807.5,309L805.8,308.4L804,307.6L802.6,306.4L801.7,304.6L801.1,302.3L799.9,300.2"/>
<path d="M804.6,270.2L803.6,273.3L802.2,276L801.2,278.8L801.9,280.8L801.5,283.2L802.6,285.7L805,287.4L807.1,289.1L809.1,290.8L810.5,291.1L808.7,292.9L807.5,295.2L806.4,297L805.2,298.2L803.4,299.1L801.7,299.6L799.9,299.9L798.2,300.8L797.3,302.2"/>
<path d="M733.2,314.4L748.6,311.8L763.9,309L779.2,306L794.4,302.8L797.3,302.2"/>
<path d="M726.7,274.3L733.2,314.4"/>
<path d="M797.3,302.2L798.7,306.4L800.5,312.8L802.6,320L803.8,323.7L812.1,322"/>
<path d="M802,305.8L803.1,308.2L804.6,310.5L805.8,312.8L807.5,315.2L809.3,317.2L811.1,320L811.7,317.6L812.6,320.2L813,322.9L813,325.5L812.6,329L811.7,332.1L810.4,334.3L809.5,336.9L808.6,340.5L807.7,344L806.8,347.5L805.5,350.1L804.6,348.4L804,345.7L804.2,343.1L804.6,340.5L804.9,337.8L804.6,335.2L803.8,333.9L802.6,333.4L802.9,331.2L802,329.5L800.7,328.6L798.5,329L797.2,327.3L795.8,325.5L794.5,322.9L793.8,320.2L794.1,317.6L793.5,315L793.8,312.3L794.1,309.2"/>
<path d="M802.9,333.4L810.4,333.9"/>
<path d="M793.6,308.8L791.9,311.4L791,314.1L791.5,317.6L791.9,321.1L792.8,323.7L793.6,325.5L795,327.3L796.3,329L796.7,330.8L796.3,333.2L797.2,335.2L797.6,337.8L798,340.5L798.9,343.1L799.8,345.7L800.7,348.4L801.6,351L803.3,352.8L805.5,353.2L807.7,356.3L809.5,360"/>
<path d="M747.7,313.2L748.8,321.5L752.3,317.6L755.4,313.6L757.2,311.9L758.9,311.3L760.7,312.3L762.4,311.4L763.7,311.3L766.4,312.3L769,311.4L770.8,310.4L771.8,312.3L772.7,314.2"/>
<path d="M772.7,314.2L775.2,316.3L776.9,317.2L778.7,318.5L781.3,318.9L784,319.3L785.3,321.1L784,322.9L783.1,325.1L781.8,326.4L782.2,329L784,329.9L785.7,329.5L787.9,330.8L790.6,331.7L793.6,332.5L796.3,333.2"/>
<path d="M628.4,254L627.5,258.9L627,263.8L628,268.8L629.5,272.2L629.5,276.1L630,279.6L631.4,283.5L632.9,286.9L634.4,289.9L636.3,291.5L638.8,291.8L641.7,290.6L644.2,288.4L646.2,285.5L648.1,282L649.6,278.1L650.6,273.7L650.3,269.7L649.6,265.8L648.1,261.9L646.2,258.4L644.1,254"/>
<path d="M591.7,279.2L605.9,278.3L620,277.2L629.3,276.4"/>
<path d="M634.4,290.1L638.3,334.6L637.8,338.6L639.3,340.5L639.9,344L638.8,347.4L636.8,351.3L634.8,354.3L633.9,357.2L633.7,360.7"/>
<path d="M645.2,288.7L670.7,286.2L688.4,284"/>
<path d="M670.7,286.2L676,333.8"/>
<path d="M684.4,235L683.9,237.9L682,240.9L680,243.8"/>
<path d="M688.3,284.1L691.8,285.1L694.7,286.6L697.2,285.6L699.6,287.6L702.6,288.8L705.5,287.1L708.5,285.6L711.4,285.6L714.4,283.1L717.3,279.7L720.3,277.7L723.2,276.3L726.7,274.3L730.1,272.3L733,269.9L736,266.9L738.9,264L742.4,260.5L744.3,258.1L745.3,255.6L743.9,253.2L742.4,250.7L741.4,247.8"/>
<path d="M709.6,342L711.5,341.2L713,338.7L713.5,335.8L714.5,332.8L716,330.4L717.9,329.4L718.9,326.4L720.4,324L721.8,322L724.3,321.5L726.3,320L728.2,318.1L729.2,315.6L729.7,312.7L729.2,308.8L728.7,304.8L729.2,300.9L730,297.9L730.5,297.9"/>
<path d="M676,333.8L678.1,333.1L680.6,332.8L682.6,334.8L684,336.7L686.5,338.2L689.4,338.7L691.9,339.7L693.4,340.7L695.3,339.7L697.8,340.2L700.2,339.2L702.2,337.2L703.7,336.7L705.1,339.2L707.1,341.2L709.6,342"/>
<path d="M709.6,342L709.4,345.1L710.1,348L711.5,351L713.5,353.4L715.5,355.4L717.4,356.9L718.9,357.9L719.5,357.1"/>
<path d="M719.5,357.1L717.2,359.6L713.8,362.4L711,365.1L708.2,367.9L706.2,371.3L702.7,374.1L699.3,376.2L697.5,377.3"/>
<path d="M719.5,357.1L721.3,360.3L724.1,362.4L727.5,359.6L730.3,360.3L733.1,358.9L735.8,356.9L738.6,355.5L740.9,356.3L743.1,352.8L742.6,350.6L744.4,346.6L746.6,341.3L747.9,336.9L748.8,333L751.4,333.9L754.5,335.2L756.3,328.6L756.7,325.9L759.5,326.4L761.1,322.9L763,318.9L764.2,316.3L768.1,315.8L770.8,316.3L772.7,314.2"/>
<path d="M697.5,377.3L697.6,377.5L711.8,375.5L726.1,373.4L726.2,374.2L746.8,370.9L767.4,367.2L787.9,363.3L808.4,359"/>
<path d="M726.1,373.4L724.8,377.5L722.7,381L720,383.1L717.2,384.4L714.4,386.5L712.4,385.8L709.6,389.3L706.9,391.3L704.1,393.4L700.7,395.5L697.9,397.5L695.2,399.6L695.8,401.7L693.1,402.3L692,407.6"/>
<path d="M692,407.6L709.6,405.1"/>
<path d="M709.6,405.1L714.4,401.7L720,399.6L728.2,398.5L735.1,397.8L739.9,397.5L742,398.9L744.1,402.3L750.3,401.7L759.9,400.6L769.6,407.9L779.9,414.3"/>
<path d="M709.6,405.1L707.6,407.2L706.9,409.9L710.3,412.7L713.8,415.4L717.2,419.6L721.3,424"/>
<path d="M809.5,360L808.8,358.9L810.9,362.4L813.7,366.5L816.4,370.7L818.2,375.5L818.5,381L815.7,383.1L813,385.1L810.2,387.9L807.5,392L806.1,395.5L802.6,394.1L798.5,396.1L795.1,398.9L792.3,402.3L790.2,405.8L788.9,409.9L788.2,412.7L784.7,412.7L782,413.4L779.9,414.3L777.1,416.8L775.1,420.3L773.7,424"/>
<path d="M673.2,409.7L683.9,447.5L688.2,455.1L689.6,457.2L687.6,459.3L686.9,464.8L687.6,468.9L688.7,473L689.2,477.2L690.6,481L693.4,486.1"/>
<path d="M693.4,486.5L713.9,483.9L734.3,481L735.1,484.3L736.5,485.4L737.2,482.7L737.9,478.5L739.9,477.9L742.7,478.5L745.7,479.2"/>
<path d="M650.6,485.1L670.6,483.2L690.6,481"/>
<path d="M721.3,424L719.9,421.4L723.4,424.8L727.5,428.2L731,431L733,433.8L737.2,436.5L739.9,439.3L741.3,442.7L744.1,446.2L746.1,448.9L747.5,452.4L750.3,453.3"/>
<path d="M773.7,424L775.1,420.7L773.7,424.8L773,428.9L770.9,432.4L768.2,435.8L764.7,438.6L762,441.3L758.5,443.4L755.8,444.8L756.5,446.9L754.4,448.9L752.3,451L750.3,453.3L749.6,456.5L748.2,460.6L747.5,464.8L746.5,468.9L745.7,473L745.4,477.2L745.7,479.2L746.8,482.7L748.2,486.8L750.3,494"/>
<path d="M652.4,496.9L654.7,495.9L659.4,494.8L664.1,494L668.8,494L673.5,495.1L677.5,496.7L681.4,498.2L685.3,500.6L687.3,502.9L687.6,505.3L691.6,506.1L694.7,504.8L697.1,502.9L699.4,500.6L700.2,499L702.5,498.2L704.1,495.9L706.5,494.8L709.6,495.9L712.7,498.2L715.9,500.6L718.2,502.9L719.8,505.3L722.9,507.3L726.1,508.9L729.2,510L730.8,513.1L731.6,517.1L732.4,520.2L731.6,523.3L730.8,526.5L731.6,530.4L733.1,533.5L735.5,535.9L737.1,532.7L738.2,533.5L736.3,537.5L734.7,538.2L736.3,540.6L738.6,543.7L741,546.9L743.3,550L744.9,553.1L747.3,555.5L750.4,556.3L752.7,558.6L754.3,562.5L757.5,564.1L760.6,565.7L763.7,568.8L765.8,572L765.5,572L765.2,574.4L767,577L769.9,575.8L772.8,574.6L776.4,573.8L775.8,575.5L774,578.5L771.7,580.8L769.3,582.6L766.4,584L763.5,583.2L761.7,582.6L759.4,584.3L756.4,587.3L759.4,587.3L763.5,585.8L768.2,584.9L771.7,583.2L775.2,580.2L778.1,576.7L780.5,572.6L781.9,568.5L782.2,566.7"/>
<path d="M748.2,486.8L749.6,488.8L752,494.3L755.1,499.8L758.2,504.5L762.2,510L765.3,513.9L766.4,516.7L765.8,518.6L767.6,522.5L770,526.5L772.4,530.4L775.5,535.1L777.8,539.8L779.4,543.7L780.2,548.4L780.5,554.7L780.5,555L781.3,558.5L781.6,562L781.1,563.8L779.3,564.4L778.7,566.7L779.9,568.5L781.1,567.6L782.2,566.7"/>
<path d="M252.9,485.9L253.4,546.1L256.3,545.3L258.8,546.9L261.3,549.4L263.8,552L266.3,550.3L268.8,547.8L271.3,548.6L273.8,552L276.3,555.3L278.8,558.6L280.5,562.8L283.8,565.3L288,567L290.2,569.5L289.7,573.7L288,576.2L284.7,575.4L281.3,577L278.8,574.5L276.3,571.2L273.8,567L271.3,563.7L268.8,559.5L266.3,556.1L263.8,553.6L261.3,551.1L257.9,548.6L254.6,547.3L251.2,546.9L247.1,546.6L243.7,546.9L240.4,545.3L237,544.9L233.7,546.1L230.3,546.9L227,547.8L223.6,550.3L221.1,552L220.3,548.6L221.1,545.3L223.6,541.9L225.3,539.9L222.8,539.4L220.3,541.9L217.8,544.9L215.3,547.8L212.8,550.3L213.6,552L210.3,554.5L206.1,557L201.9,559.5L197.7,562L193.5,563.7L189.4,565.3L185.2,566.2L180.2,567.8L176,570L173.8,571.7L176.8,570.7L181.8,569L186.9,567.3L191.9,566.2L196.1,565.3L199.4,563.7L201.9,561.2L201.1,557.8L202.7,553.6L203.6,550.6L200.2,551.6L196.9,550.3L194.4,547.8L191,547.8L189.4,545.3L190.2,541.9L187.7,540.6L184.3,539.4L181.8,536.9L181,533.6L181.8,530.2L182.7,526.9L185.2,523.5L187.7,521.9L191,522.2L194.4,521L197.7,520.2L198.6,516.8L199.4,514.3L196.1,513.5L192.7,513.5L189.4,512.7L186.9,511L185.2,507.6L183.5,504.3L182.2,502.6L185.2,501.5L189.4,500.1L193.5,499.3L194.4,502.6L196.9,504.3L199.9,503.8L198.9,500.1L196.9,496.8L196.1,493.4L193.5,490.9L191,487.6L191.9,484.2L195.2,484.2L199.4,482.6L201.1,480.1L203.6,477.5L206.9,476.7L210.3,475.4L213.6,474.2L217,472.5L220.3,474.2L222,476.4L225.3,476.7L227.8,479.2L230.3,480.9L233.7,480.4L237,481.4L240.4,482.6L244.5,483.7L247.9,482.6L250.4,484.2L252.9,485.9"/>
<path d="M167.6,512.2L171,512.7L174.3,515.2L177.7,516.8L173.8,517.7L170.1,515.2L167.6,512.2"/>
<path d="M174.3,536.6L177.7,535.6L180.2,537.7L178.5,539.4L175.5,538.6L174.3,536.6"/>
<path d="M209.4,562L211.9,558.6L215.3,556.1L217.3,555.3L217,558.6L215.3,562L211.9,565L209.9,564.5L209.4,562"/>
<path d="M135,573.4L140.4,572.4L140,574.7L137.5,575L135,573.4"/>
<path d="M162.6,574.5L166,572.9L169.3,572L168.5,574.5L165.1,575.4L162.6,574.5"/>
<path d="M270.5,556.1L273.8,557.8L277.2,562.8L279.7,568.7L281.3,573.7L278.8,572L275.5,567L272.1,561.2L270.5,556.1"/>
<path d="M273,555.3L276.3,558.6L278.8,563.7L281.3,567.8L283.8,572L284.7,575.4"/>
<path d="M309.1,526.1L310.2,523.8L312.3,522.6L315.2,522.6L317.2,524.4L317,527.3L315.2,529L312.3,529L309.9,527.9L309.1,526.1"/>
<path d="M333.4,533.7L336.3,532.6L337.5,531.4L339.3,533.2L341.6,535.5L342.6,539L339.9,539L336.9,538.4L334.6,537.3L333.4,535.5L333.4,533.7"/>
<path d="M348.4,539.6L353.3,539.3L357.8,539.7L357.4,541.4L353.3,542L348.7,541.6L348.4,539.6"/>
<path d="M351.9,544.9L354.5,544.3L355.9,546.1L353.9,547.8L352.4,546.6L351.9,544.9"/>
<path d="M358.6,543.1L360.4,542.5L361.8,544.3L363.9,543.5L366.8,543.7L368.8,545.5L369.8,547.5L368,549L365.1,549.6L362.7,550.2L361.6,548.4L361,546.1L359.2,545.5L358.6,543.1"/>
<path d="M370.9,554.9L374.5,555.4L377.4,556.6L380.9,558.4L383.8,560.7L386.2,563.7L389.1,566.2L386.8,568.9L383.8,570.7L380.9,571.9L378.6,573.6L376.8,576.6L374.5,576.8L372.1,576L371.5,573.6L372.1,570.7L370.9,567.8L369.8,564.8L368.8,563.1L370.4,560.7L371.5,557.8L370.9,554.9"/>
</g>
<g id="title">
<text transform="translate(196.30,34.0) scale(1.0677,1)" font-size="32" fill="#c44e00">Metro</text>
<text transform="translate(291.64,34.0) scale(0.9566,1)" font-size="32" fill="#c44e00">Area</text>
<text transform="translate(366.93,34.0) scale(1.0158,1)" font-size="32" fill="#c44e00">Home</text>
<text transform="translate(461.62,34.0) scale(1.0433,1)" font-size="32" fill="#c44e00">Improvement</text>
<text transform="translate(664.85,34.0) scale(1.0109,1)" font-size="32" fill="#c44e00">Projections</text>
<text transform="translate(250.14,70.0) scale(1.0109,1)" font-size="32" fill="#c44e00">Annual</text>
<text transform="translate(359.24,70.0) scale(0.9601,1)" font-size="32" fill="#c44e00">Change</text>
<text transform="translate(476.10,70.0) scale(1.0296,1)" font-size="32" fill="#c44e00">in</text>
<text transform="translate(509.37,70.0) scale(0.9864,1)" font-size="32" fill="#c44e00">Spending,</text>
<text transform="translate(659.20,70.0) scale(0.9926,1)" font-size="32" fill="#c44e00">2022Q4</text>
</g>
<g id="legend">
<text transform="translate(843.77,434.9) scale(0.9901,1)" font-size="21.3" fill="#111">Projected</text>
<text transform="translate(938.35,434.9) scale(0.9727,1)" font-size="21.3" fill="#111">Change</text>
<text transform="translate(843.29,460.1) scale(0.9900,1)" font-size="21.3" fill="#111">(Percent)</text>
<circle cx="857.4" cy="488.1" r="11.3" fill="#6ba3b9"/>
<circle cx="857.4" cy="515.5" r="11.3" fill="#77ae9a"/>
<circle cx="857.4" cy="542.7" r="11.3" fill="#ebc103"/>
<circle cx="857.4" cy="569.9" r="11.3" fill="#c44e00"/>
<text transform="translate(879.36,496.9) scale(0.9997,1)" font-size="21.3" fill="#333">Under</text>
<text transform="translate(943.73,496.9) scale(0.9700,1)" font-size="21.3" fill="#333">10</text>
<text transform="translate(880.50,524.4) scale(0.8617,1)" font-size="21.3" fill="#333">10</text>
<text transform="translate(909.40,524.4) scale(0.6252,1)" font-size="21.3" fill="#333">–</text>
<text transform="translate(925.42,524.4) scale(0.9114,1)" font-size="21.3" fill="#333">15</text>
<text transform="translate(880.45,551.4) scale(0.8926,1)" font-size="21.3" fill="#333">15</text>
<text transform="translate(910.00,551.4) scale(0.6168,1)" font-size="21.3" fill="#333">–</text>
<text transform="translate(924.09,551.4) scale(0.9408,1)" font-size="21.3" fill="#333">20</text>
<text transform="translate(879.61,578.6) scale(0.9271,1)" font-size="21.3" fill="#333">20</text>
<text transform="translate(907.26,578.6) scale(0.9383,1)" font-size="21.3" fill="#333">or</text>
<text transform="translate(932.32,578.6) scale(0.9733,1)" font-size="21.3" fill="#333">Over</text>
</g>
<g id="logo">
<path d="M55.6,632.5L89.2,608.7L123.7,632.5L123.7,677.5L98.5,677.5L98.5,649.9L75.3,634.6L55.6,648.1Z" fill="#e5832a"/>
<text transform="scale(0.8289,1)" x="17.22 37.90 65.48 91.69" y="678.0" font-size="31.3" fill="#e5832a" stroke="#e5832a" stroke-width="1.1" stroke-linejoin="round">JCHS</text>
<text transform="translate(136.60,644.4) scale(0.8388,1)" font-size="16" fill="#8a8a8a" font-weight="bold">JOINT CENTER FOR</text>
<text transform="translate(135.86,662.1) scale(0.8769,1)" font-size="16" fill="#8a8a8a" font-weight="bold">HOUSING STUDIES</text>
<text transform="translate(136.32,676.7) scale(0.8401,1)" font-size="12" fill="#999">OF HARVARD UNIVERSITY</text>
</g>
<g id="notes">
<text transform="translate(295.46,644.4) scale(1.1009,1)" font-size="12.6" fill="#6b6b6b">Notes: The projections methodology</text>
<text transform="translate(520.96,644.4) scale(1.1143,1)" font-size="12.6" fill="#6b6b6b">is described in the</text>
<text transform="translate(637.70,644.4) scale(1.0249,1)" font-size="12.6" fill="#6b6b6b">JCHS research note,</text>
<text transform="translate(759.63,644.4) scale(1.1275,1)" font-size="12.6" fill="#6b6b6b">Projecting Home Improvement</text>
<text transform="translate(955.20,644.4) scale(1.0525,1)" font-size="12.6" fill="#6b6b6b">Spending at</text>
<text transform="translate(296.39,661.5) scale(1.1257,1)" font-size="12.6" fill="#6b6b6b">the Metropolitan Area</text>
<text transform="translate(435.29,661.5) scale(1.0740,1)" font-size="12.6" fill="#6b6b6b">Level. Historical data</text>
<text transform="translate(564.71,661.5) scale(1.1023,1)" font-size="12.6" fill="#6b6b6b">are modeled estimates.</text>
<text transform="translate(296.00,678.7) scale(1.0518,1)" font-size="12.6" fill="#6b6b6b">Source: Harvard Joint Center</text>
<text transform="translate(471.61,678.7) scale(1.0456,1)" font-size="12.6" fill="#6b6b6b">for Housing Studies’ analysis</text>
<text transform="translate(644.13,678.7) scale(1.0790,1)" font-size="12.6" fill="#6b6b6b">of Moody’s Analytics,</text>
<text transform="translate(774.02,678.7) scale(1.0032,1)" font-size="12.6" fill="#6b6b6b">US Census Bureau,</text>
<text transform="translate(888.45,678.7) scale(1.0340,1)" font-size="12.6" fill="#6b6b6b">and BuildFax data.</text>
</g>
</svg>
</body></html>
